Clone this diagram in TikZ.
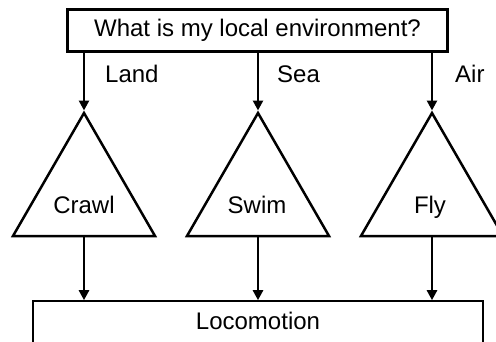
\documentclass[tikz,border=0pt]{standalone}
\usepackage{fontspec}
\setmainfont{Liberation Sans}
\usetikzlibrary{shapes.geometric,arrows.meta}
\begin{document}
\begin{tikzpicture}[x=1pt,y=-1pt,
  every node/.style={font=\fontsize{24}{28}\selectfont, inner sep=0pt},
  qbox/.style={draw, line width=2.4pt, minimum width=380pt, minimum height=42pt},
  tri/.style={draw, regular polygon, regular polygon sides=3, minimum size=164pt, line width=2.5pt},
  outbox/.style={draw, line width=1.6pt, minimum width=450pt, minimum height=60pt},
  arr/.style={line width=2.6pt, -{Triangle[length=10pt,width=10pt]}},
  lab/.style={anchor=base west},
  txt/.style={anchor=base}]
\useasboundingbox (0,0) rectangle (496,341);
\clip (0,0) rectangle (496,341);

% question box
\node[qbox] (q) at (257.5,30.5) {What is my local environment?};

% the three ways of moving
\node[tri] (t1) at (84,195) {};
\node[tri] (t2) at (258,195) {};
\node[tri] (t3) at (432,195) {};
\node[txt] (crawl) at (84,213) {Crawl};
\node[txt] (swim) at (257,213) {Swim};
\node[txt] (fly) at (430,213) {Fly};

% result box, open at the bottom edge
\node[outbox] (lo) at (258,331) {};
\node[txt] (loco) at (258,329) {Locomotion};

% branches
\draw[arr] (q.south -| t1.corner 1) -- (t1.corner 1);
\draw[arr] (q.south -| t2.corner 1) -- (t2.corner 1);
\draw[arr] (q.south -| t3.corner 1) -- (t3.corner 1);
\node[lab] (land) at (105,82) {Land};
\node[lab] (sea) at (277,82) {Sea};
\node[lab] (air) at (455,82) {Air};

\draw[arr] (t1.side 2) -- (t1.side 2 |- lo.north);
\draw[arr] (t2.side 2) -- (t2.side 2 |- lo.north);
\draw[arr] (t3.side 2) -- (t3.side 2 |- lo.north);
\end{tikzpicture}
\end{document}
